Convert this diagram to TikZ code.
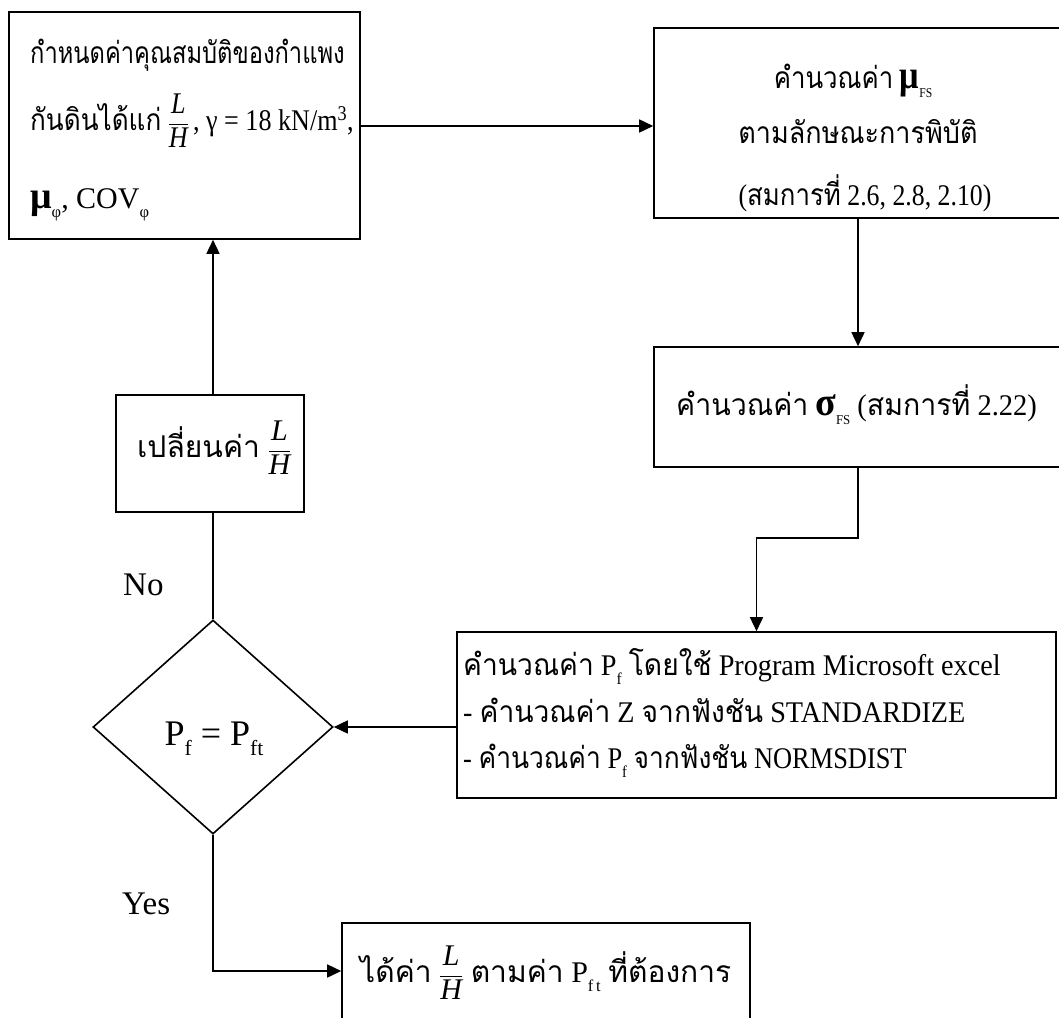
\documentclass[tikz,border=0pt]{standalone}
\usepackage{fontspec}
\usepackage{graphicx}
\setmainfont{Liberation Serif}
\newfontfamily\thaifont[Script=Thai]{Loma}
\usetikzlibrary{arrows.meta,shapes.geometric,calc}

% Thai words, lowered subscripts, the L/H ratio and narrowed lines
\newcommand\tha[1]{{\thaifont #1}}
\newcommand\lowsub[2][0.55]{\raisebox{-0.3em}{\scalebox{#1}{#2}}}
\newcommand\frLH{$\displaystyle\frac{\textit{L}}{\textit{H}}$}
\newcommand\bigsym[1]{{\fontsize{40}{40}\selectfont\bfseries #1}}
\newcommand\narrow[2]{\scalebox{#1}[1]{#2}}

\begin{document}
\begin{tikzpicture}[x=1pt,y=-1pt,
  box/.style={draw,line width=1.6pt,inner sep=0pt,fill=white},
  txt/.style={inner sep=0pt,font=\fontsize{30}{36}\selectfont},
  lbl/.style={inner sep=0pt,font=\fontsize{33}{38}\selectfont},
  link/.style={line width=1.6pt},
  arr/.style={line width=1.6pt,-{Triangle[length=14pt,width=13pt]}}]
\useasboundingbox[fill=white] (0,0) rectangle (1059,1017);

% boxes
\node[box,minimum width=351pt,minimum height=227pt] (b1) at (184.5,125.5) {};
\node[box,minimum width=408pt,minimum height=190pt] (b2) at (858,123) {};
\node[box,minimum width=408pt,minimum height=120pt] (b3) at (858,407) {};
\node[box,minimum width=599pt,minimum height=166pt] (b4) at (756.5,715) {};
\node[box,minimum width=188pt,minimum height=117pt] (b5) at (210,453.5) {};
\node[box,minimum width=408pt,minimum height=96pt] (b6) at (546,971) {};
\node[draw,line width=1.6pt,diamond,inner sep=0pt,minimum width=240pt,minimum height=214pt] (dec) at (213,727) {};

% texts
\node[txt,anchor=base west] (t1a) at (30,63) {\narrow{0.79}{\tha{กำหนดค่าคุณสมบัติของกำแพง}}};
\node[txt,anchor=base west] (t1b) at (30,130) {\narrow{0.87}{\tha{กันดินได้แก่} \frLH\,, γ = 18 kN/m\textsuperscript{3},}};
\node[txt,anchor=base west] (t1c) at (30,208) {{\fontsize{38}{38}\selectfont\bfseries μ}\lowsub{φ}, COV\lowsub{φ}};

\node[txt,anchor=base] (t2a) at (853,88) {\narrow{0.86}{\tha{คำนวณค่า} \bigsym{μ}\lowsub[0.45]{FS}}};
\node[txt,anchor=base] (t2b) at (858,143) {\narrow{0.9}{\tha{ตามลักษณะการพิบัติ}}};
\node[txt,anchor=base] (t2c) at (865,205) {\narrow{0.86}{(\tha{สมการที่} 2.6, 2.8, 2.10)}};

\node[txt,anchor=base west] (t3) at (676,415) {\narrow{0.95}{\tha{คำนวณค่า} \bigsym{σ}\lowsub[0.45]{FS} (\tha{สมการที่} 2.22)}};

\node[txt,anchor=base west] (t4a) at (463,675) {\narrow{0.94}{\tha{คำนวณค่า} P\lowsub{f} \tha{โดยใช้} Program Microsoft excel}};
\node[txt,anchor=base west] (t4b) at (463,722) {\narrow{0.94}{- \tha{คำนวณค่า} Z \tha{จากฟังชัน} STANDARDIZE}};
\node[txt,anchor=base west] (t4c) at (463,768) {\narrow{0.88}{- \tha{คำนวณค่า} P\lowsub{f} \tha{จากฟังชัน} NORMSDIST}};

\node[inner sep=0pt,font=\fontsize{36}{40}\selectfont,anchor=base] (tp) at (214,745) {P\lowsub[0.6]{f} = P\lowsub[0.6]{ft}};
\node[txt,anchor=base west] (t5) at (137,457) {\tha{เปลี่ยนค่า} \frLH};
\node[txt,anchor=base west] (t6) at (360,982) {\tha{ได้ค่า} \frLH{} \tha{ตามค่า} P\lowsub{f\,t} \tha{ที่ต้องการ}};

\node[lbl,anchor=base west] (no) at (123,595) {No};
\node[lbl,anchor=base west] (yes) at (122,914) {Yes};

% connectors
\draw[arr] (b1.east |- 0,126) -- (b2.west |- 0,126);
\draw[arr] (b2.south) -- (b3.north);
\draw[arr] (b3.south) -- ++(0,70) -| (b4.north);
\draw[arr] (b4.west |- dec.east) -- (dec.east);
\draw[link] (dec.north) -- (dec.north |- b5.south);
\draw[arr] (dec.north |- b5.north) -- (dec.north |- b1.south);
\draw[arr] (dec.south) |- (b6.west);
\end{tikzpicture}
\end{document}
